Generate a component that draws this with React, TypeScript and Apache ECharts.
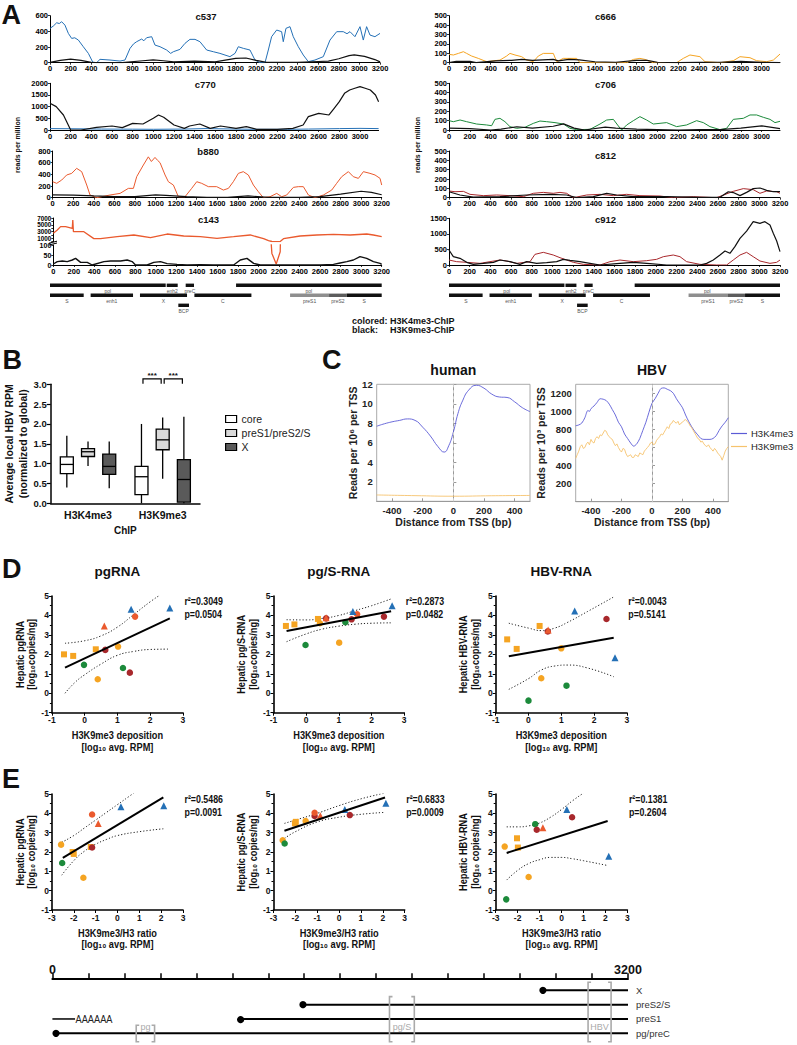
import React, { useEffect, useRef } from 'react';
import * as echarts from 'echarts';

const FONT = "'Liberation Sans', Arial, Helvetica, sans-serif";

const BLUE = '#2470b6';
const REDOR = '#ea5a2e';
const ORANGE = '#f5a422';
const GREEN = '#1c8a3b';
const DARKRED = '#a8282c';
const BLACK = '#111111';

// ---------------- Panel A data (bp, reads per million) ----------------
const c537Blue = [[0,438],[32,468],[65,510],[90,500],[113,523],[145,480],[178,374],[210,310],[240,318],[275,289],[323,204],[372,119],[414,8],[452,0],[485,43],[582,34],[679,21],[727,34],[776,183],[810,240],[840,268],[889,302],[910,280],[937,319],[986,332],[1018,225],[1067,204],[1131,162],[1170,119],[1196,140],[1260,170],[1309,247],[1357,298],[1406,298],[1454,268],[1519,162],[1584,140],[1648,119],[1745,77],[1794,119],[1826,204],[1875,183],[1939,162],[1988,34],[2036,0],[2085,0],[2117,162],[2149,332],[2198,417],[2246,396],[2262,268],[2288,438],[2327,460],[2359,332],[2408,204],[2456,98],[2505,13],[2569,34],[2650,77],[2715,289],[2780,396],[2844,396],[2880,370],[2909,396],[2957,332],[3006,460],[3038,289],[3070,460],[3103,353],[3151,332],[3200,374]];
const c537Black = [[0,5],[100,30],[200,45],[300,30],[400,5],[500,0],[700,0],[900,25],[1000,35],[1100,25],[1200,10],[1400,20],[1600,10],[1800,55],[1900,60],[2000,30],[2100,5],[2400,5],[2600,15],[2700,20],[2800,50],[2900,90],[2950,100],[3050,80],[3150,40],[3200,10]];
const c770Black = [[0,1143],[60,1000],[130,643],[200,0],[300,0],[450,114],[600,171],[700,100],[800,286],[900,257],[1000,500],[1050,643],[1100,543],[1200,214],[1300,71],[1350,171],[1450,257],[1550,71],[1650,171],[1800,71],[1900,143],[2000,29],[2200,29],[2350,71],[2450,214],[2500,571],[2600,714],[2700,643],[2750,929],[2800,1214],[2850,1571],[2900,1714],[2950,1786],[3000,1857],[3050,1786],[3100,1714],[3150,1500],[3180,1214]];
const c770Blue = [[0,60],[300,50],[500,40],[800,35],[1000,30],[1300,40],[1500,60],[1800,40],[2000,30],[2300,30],[2500,40],[2800,60],[3000,70],[3180,60]];
const b880Red = [[0,274],[39,246],[88,303],[136,389],[185,417],[233,503],[282,446],[331,217],[363,46],[428,0],[558,46],[655,74],[736,160],[785,160],[817,360],[882,560],[930,700],[960,620],[995,690],[1020,640],[1044,600],[1093,389],[1125,274],[1174,217],[1222,17],[1287,17],[1352,160],[1401,274],[1449,246],[1514,189],[1595,189],[1660,131],[1709,160],[1757,274],[1806,417],[1854,446],[1903,389],[1952,217],[2000,103],[2049,0],[2114,17],[2179,74],[2227,17],[2276,46],[2341,177],[2389,189],[2438,189],[2487,46],[2551,0],[2633,46],[2714,131],[2762,246],[2811,360],[2876,446],[2924,360],[2973,331],[3022,446],[3086,417],[3135,389],[3184,331],[3200,217]];
const b880Black = [[0,50],[200,45],[400,30],[600,20],[800,20],[1000,50],[1100,40],[1300,20],[1500,5],[1700,5],[1900,30],[2100,5],[2400,5],[2600,20],[2800,60],[3000,110],[3100,90],[3200,50]];
const c143Red = [[0,2480],[39,3460],[71,4440],[120,4440],[185,3960],[190,6400],[196,2950],[298,2950],[395,900],[460,900],[622,1470],[785,1980],[947,1180],[1109,2270],[1271,1680],[1433,1470],[1595,1000],[1757,1470],[1919,1980],[2049,900],[2097,300],[2130,58],[2172,5],[2211,66],[2243,900],[2405,1680],[2568,1980],[2730,2170],[2892,1980],[3054,2270],[3119,1980],[3200,1470]];
const c143Black = [[0,5],[39,17],[88,20],[136,17],[185,25],[217,33],[266,13],[331,13],[379,0],[493,17],[558,20],[655,20],[720,25],[768,17],[801,0],[914,0],[979,13],[1044,17],[1109,7],[1206,3],[1303,0],[1433,2],[1562,0],[1757,0],[1822,25],[1887,33],[1952,8],[2017,0],[2600,0],[2730,3],[2795,10],[2860,17],[2924,25],[2989,42],[3054,33],[3119,17],[3184,8],[3200,3]];
const c666Orange = [[0,89],[42,82],[90,99],[138,117],[169,99],[217,71],[281,46],[361,11],[489,28],[553,71],[585,99],[633,82],[697,64],[745,28],[809,11],[857,71],[905,99],[1001,99],[1033,11],[1097,46],[1225,46],[1257,0],[1705,0],[1769,35],[1832,46],[1880,35],[1960,0],[2184,0],[2248,46],[2312,82],[2408,64],[2456,11],[2600,0],[2728,21],[2792,64],[2888,53],[2952,21],[3048,11],[3112,28],[3176,92]];
const c666Black = [[0,0],[70,15],[200,15],[260,0],[450,20],[600,25],[700,35],[800,25],[900,30],[1000,35],[1050,20],[1150,35],[1250,30],[1400,10],[1600,5],[1800,25],[1900,25],[2000,5],[2200,0],[2400,5],[2600,5],[2800,15],[3000,5],[3176,0]];
const c706Green = [[0,100],[42,89],[106,107],[169,89],[265,64],[361,54],[409,46],[441,114],[489,125],[537,89],[585,36],[649,18],[729,29],[809,71],[873,96],[937,89],[1017,79],[1097,64],[1161,18],[1225,4],[1353,7],[1449,64],[1513,107],[1577,114],[1625,43],[1657,0],[1705,54],[1769,100],[1832,143],[1896,107],[1960,64],[2088,79],[2184,36],[2280,54],[2376,100],[2440,79],[2504,36],[2600,4],[2664,18],[2728,114],[2824,125],[2888,161],[2952,161],[3016,136],[3080,114],[3128,79],[3176,93]];
const c706Black = [[0,20],[200,15],[400,0],[500,10],[650,35],[800,20],[1000,40],[1100,65],[1200,20],[1300,0],[1500,30],[1600,20],[1800,10],[2000,5],[2200,0],[2400,5],[2600,5],[2800,20],[3000,45],[3176,15]];
const c812Red = [[0,72],[58,64],[139,68],[203,36],[332,22],[461,29],[590,22],[718,11],[815,47],[912,57],[1008,47],[1073,57],[1137,47],[1202,0],[1331,29],[1460,36],[1588,22],[1717,36],[1846,22],[2040,18],[2168,0],[2362,11],[2587,0],[2748,68],[2845,97],[2941,86],[3006,47],[3071,72],[3168,64],[3200,47]];
const c812Black = [[0,64],[106,29],[235,7],[493,11],[751,29],[976,36],[1137,29],[1234,0],[1395,11],[1524,47],[1621,29],[1782,11],[2104,11],[2426,4],[2620,4],[2700,64],[2748,55],[2813,22],[2877,57],[2941,97],[3006,104],[3071,79],[3135,64],[3200,64]];
const c912Black = [[0,481],[42,267],[106,214],[171,86],[235,21],[332,53],[429,86],[493,160],[590,107],[686,21],[751,107],[847,53],[944,75],[1041,107],[1105,182],[1170,150],[1266,107],[1363,53],[1460,0],[1621,43],[1782,86],[1943,43],[2104,0],[2426,0],[2491,53],[2555,160],[2620,321],[2668,449],[2716,375],[2764,589],[2813,856],[2877,1091],[2941,1391],[3006,1338],[3054,1391],[3103,1284],[3135,1017],[3168,770],[3200,428]];
const c912Red = [[0,160],[74,107],[171,86],[300,53],[396,107],[493,160],[557,128],[654,53],[783,107],[831,342],[912,407],[1008,321],[1073,235],[1137,160],[1202,86],[1298,21],[1460,0],[1556,107],[1653,160],[1782,107],[1911,139],[2007,182],[2072,267],[2168,321],[2233,267],[2297,107],[2426,21],[2587,0],[2684,0],[2748,160],[2813,321],[2877,407],[2941,267],[3006,128],[3103,53],[3168,86],[3200,160]];

// HBV genome map (bp start, bp end, row, label)
const geneFeatures: [number, number, number, string][] = [
  [0, 1116, 0, 'pol'], [1126, 1232, 0, 'enh2'], [1309, 1389, 0, 'preC'], [1795, 3200, 0, 'pol'],
  [0, 325, 1, 'S'], [392, 801, 1, 'enh1'], [868, 1322, 1, 'X'], [1393, 1943, 1, 'C'],
  [2316, 2692, 1, 'preS1'], [2692, 2862, 1, 'preS2'], [2862, 3200, 1, 'S'],
  [1238, 1341, 2, 'BCP'],
];

// ---------------- Panel B data ----------------
const bCategories = ['H3K4me3', 'H3K9me3'];
// [category, min, q1, median, q3, max]
const boxCore = [[0, 0.4, 0.75, 0.98, 1.17, 1.7], [1, 0.0, 0.22, 0.67, 0.93, 2.0]];
const boxPreS = [[0, 0.94, 1.18, 1.3, 1.38, 1.56], [1, 0.62, 1.35, 1.6, 1.87, 2.16]];
const boxX = [[0, 0.38, 0.73, 0.93, 1.24, 1.56], [1, 0.0, 0.03, 0.6, 1.1, 2.18]];
const bSignif = [[1, 0, 1, 3.0], [1, 1, 2, 3.0]];

// ---------------- Panel C data ----------------
const humanK4 = [[-500,7.7],[-450,7.95],[-400,8.15],[-350,8.3],[-300,8.45],[-250,8.3],[-200,7.6],[-150,6.7],[-100,5.6],[-60,5.05],[-30,5.7],[0,7.1],[30,9.0],[60,10.3],[100,11.4],[150,11.9],[200,11.6],[250,11.0],[300,10.7],[350,10.65],[400,10.2],[450,9.6],[500,9.2]];
const humanK9 = [[-500,0.65],[-250,0.58],[0,0.52],[250,0.57],[500,0.6]];
const hbvK4 = [[-500,841],[-480,850],[-460,871],[-440,930],[-420,1010],[-410,1000],[-400,1030],[-380,1060],[-360,1100],[-340,1140],[-320,1135],[-300,1120],[-280,1080],[-260,1020],[-240,960],[-220,880],[-200,830],[-180,750],[-160,700],[-140,650],[-120,615],[-100,640],[-80,700],[-60,790],[-40,880],[-20,990],[0,1090],[20,1140],[40,1200],[60,1255],[80,1260],[100,1245],[120,1230],[140,1200],[160,1140],[180,1090],[200,1040],[220,960],[240,890],[260,830],[280,780],[300,740],[320,700],[340,690],[360,690],[380,690],[400,700],[420,730],[440,790],[460,840],[480,880],[500,930]];
const hbvK9 = [[-500,480],[-490,520],[-480,560],[-470,610],[-460,630],[-450,590],[-440,600],[-430,640],[-420,660],[-410,630],[-400,690],[-390,660],[-380,650],[-370,700],[-360,720],[-350,700],[-340,740],[-330,730],[-320,760],[-310,790],[-300,780],[-290,740],[-280,720],[-270,700],[-260,690],[-250,650],[-240,620],[-230,640],[-220,600],[-210,570],[-200,550],[-190,590],[-180,580],[-170,530],[-160,500],[-150,510],[-140,520],[-130,490],[-120,490],[-110,520],[-100,510],[-90,500],[-80,540],[-70,530],[-60,520],[-50,560],[-40,580],[-30,600],[-20,620],[-10,650],[0,660],[10,630],[20,640],[30,680],[40,700],[50,720],[60,750],[70,740],[80,770],[90,800],[100,830],[110,810],[120,860],[130,870],[140,900],[150,880],[160,870],[170,890],[180,850],[190,870],[200,880],[210,900],[220,910],[230,890],[240,870],[250,840],[260,820],[270,790],[280,760],[290,730],[300,700],[310,690],[320,660],[330,670],[340,640],[350,620],[360,610],[370,630],[380,600],[390,580],[400,560],[410,590],[420,570],[430,540],[440,520],[450,500],[460,460],[470,510],[480,560],[490,590],[500,610]];

// ---------------- Panels D/E data: [x, y, markerGroup] ----------------
// groups: 0 orange square, 1 orange circle, 2 green circle, 3 dark red circle, 4 red circle, 5 red triangle, 6 blue triangle
const dPgPts = [[-0.63,2.0,0],[-0.35,1.92,0],[-0.02,1.46,2],[0.34,2.26,0],[0.4,0.72,1],[0.6,3.46,5],[0.63,2.23,3],[1.02,2.4,1],[1.17,1.3,2],[1.38,1.06,3],[1.42,4.32,6],[1.54,3.94,4],[2.6,4.38,6]];
const dPgFit = [[-0.6,1.32],[2.6,3.85]];
const dPgUpper = [[-0.6,2.57],[0,2.7],[0.5,2.95],[1,3.4],[1.5,4.05],[2,4.7],[2.3,5.05]];
const dPgLower = [[-0.6,0.0],[-0.3,0.55],[0,0.95],[0.5,1.5],[1,1.95],[1.5,2.15],[2,2.25],[2.6,2.27]];
const dPgSPts = [[-0.62,3.46,0],[-0.36,3.54,0],[-0.02,2.48,2],[0.36,3.82,0],[0.42,3.6,1],[0.61,3.88,5],[0.61,3.85,3],[1.01,2.6,1],[1.2,3.65,2],[1.39,3.8,3],[1.43,4.2,6],[1.56,4.06,4],[2.38,3.94,3],[2.63,4.5,6]];
const dPgSFit = [[-0.6,3.2],[2.6,4.22]];
const dPgSUpper = [[-0.6,3.78],[0,3.77],[0.5,3.85],[1,4.0],[1.5,4.25],[2,4.5],[2.6,4.85]];
const dPgSLower = [[-0.6,2.65],[0,3.05],[0.5,3.3],[1,3.45],[1.5,3.55],[2,3.6],[2.6,3.62]];
const dHbvPts = [[-0.65,2.77,0],[-0.36,2.28,0],[0,-0.38,2],[0.34,3.46,0],[0.39,0.77,1],[0.6,3.25,5],[0.59,3.18,3],[1.0,2.31,1],[1.16,0.39,2],[1.41,4.23,6],[2.38,3.82,3],[2.64,1.83,6]];
const dHbvFit = [[-0.6,1.9],[2.6,2.85]];
const dHbvUpper = [[-0.6,3.6],[0,3.35],[0.4,3.22],[0.8,3.35],[1.2,3.65],[1.8,4.2],[2.6,4.95]];
const dHbvLower = [[-0.6,0.2],[0,0.75],[0.4,1.2],[0.8,1.4],[1.2,1.45],[1.8,1.3],[2.6,0.85]];
const ePgPts = [[-2.58,2.38,1],[-2.53,1.43,2],[-2.05,2.0,0],[-2.0,1.9,0],[-1.56,0.67,1],[-1.22,2.26,0],[-1.16,3.94,4],[-0.88,3.48,5],[-1.16,2.23,3],[0.16,4.34,6],[2.12,4.39,6]];
const ePgFit = [[-2.5,1.7],[2.1,4.82]];
const ePgUpper = [[-2.55,2.5],[-2,2.85],[-1.5,3.25],[-1,3.65],[-0.5,4.05],[0,4.45],[0.5,4.85],[0.75,5.05]];
const ePgLower = [[-2.55,0.8],[-2,1.55],[-1.5,2.05],[-1,2.4],[-0.5,2.65],[0,2.85],[1,3.05],[2.1,3.2]];
const ePgSPts = [[-2.58,2.61,1],[-2.49,2.44,2],[-2.02,3.48,0],[-1.98,3.56,0],[-1.53,3.6,1],[-0.86,3.88,5],[-1.12,4.03,4],[-1.12,3.86,3],[0.49,3.91,3],[0.26,4.2,6],[2.14,4.52,6]];
const ePgSFit = [[-2.5,3.1],[2.1,4.82]];
const ePgSUpper = [[-2.5,3.48],[-2,3.65],[-1,4.0],[0,4.4],[1,4.75],[2.1,5.05]];
const ePgSLower = [[-2.5,2.7],[-2,3.05],[-1,3.55],[0,3.8],[1,3.95],[2.1,4.05]];
const eHbvPts = [[-2.59,2.28,1],[-2.52,-0.45,2],[-2.03,2.71,0],[-1.99,2.23,0],[-1.5,0.71,1],[-1.2,3.44,2],[-1.13,3.15,3],[-0.85,3.25,5],[0.24,4.2,6],[0.48,3.8,3],[2.15,1.78,6]];
const eHbvFit = [[-2.5,1.95],[2.1,3.6]];
const eHbvUpper = [[-2.5,3.3],[-2,3.3],[-1.5,3.35],[-1,3.5],[-0.5,3.8],[0,4.2],[0.5,4.65],[1.0,5.05]];
const eHbvLower = [[-2.5,0.55],[-2,1.05],[-1.5,1.4],[-1,1.6],[-0.5,1.72],[0,1.72],[0.5,1.65],[1,1.55],[2.1,1.3]];

// ---------------- Transcript map ----------------
const genomeLength = 3200;
const transcriptRows = ['pg/preC', 'preS1', 'preS2/S', 'X'];
const transcriptStarts = [[20, 0], [1046, 1], [1393, 2], [2727, 3]];
const polyA = [[0, 126, 1]];
const primerBrackets: [number, number, number, string][] = [[466, 568, 0, 'pg'], [1874, 2012, 2, 'pg/S'], [2978, 3106, 3, 'HBV']];

const markerGroups = [
  { symbol: 'rect', color: ORANGE, size: 6 },
  { symbol: 'circle', color: ORANGE, size: 6.5 },
  { symbol: 'circle', color: GREEN, size: 6.5 },
  { symbol: 'circle', color: DARKRED, size: 6.5 },
  { symbol: 'circle', color: REDOR, size: 6.5 },
  { symbol: 'triangle', color: REDOR, size: 7 },
  { symbol: 'triangle', color: BLUE, size: 7 },
];

function txt(x: number, y: number, text: string, o: any = {}) {
  const align = o.align || 'left';
  const va = o.va || 'middle';
  return {
    type: 'text', x, y, rotation: o.rot || 0, scaleX: o.sx || 1, silent: true, z: 50,
    style: {
      text, fill: o.color || '#111', fontSize: o.size || 10, fontWeight: o.weight || 'bold',
      fontFamily: FONT, align, verticalAlign: va, textAlign: align, textVerticalAlign: va,
    },
  };
}

const plain = (v: number) => String(v);

function buildOption() {
  const grid: any[] = [];
  const xAxis: any[] = [];
  const yAxis: any[] = [];
  const series: any[] = [];
  const graphic: any[] = [];
  const add = (g: any, xa: any, ya: any) => {
    const i = grid.length;
    grid.push({ ...g, containLabel: false, outerBoundsMode: 'none' });
    xAxis.push({ ...xa, gridIndex: i });
    yAxis.push({ ...ya, gridIndex: i });
    return i;
  };

  // ---------- Panel A ----------
  const aLabel = { fontSize: 7.5, fontWeight: 'bold', color: '#000', margin: 2, fontFamily: FONT };
  const aX = (max: number) => ({
    type: 'value', min: 0, max, interval: 200,
    axisLine: { show: true, lineStyle: { color: '#000', width: 1 } },
    axisTick: { show: true, length: 2, lineStyle: { color: '#000', width: 0.8 } },
    axisLabel: { ...aLabel, formatter: plain, showMaxLabel: max === 3200 },
    splitLine: { show: false },
  });
  const aY = (max: number, interval: number, fmt?: any, size?: number) => ({
    type: 'value', min: 0, max, interval,
    axisLine: { show: true, lineStyle: { color: '#000', width: 1 } },
    axisTick: { show: true, length: 2, lineStyle: { color: '#000', width: 0.8 } },
    axisLabel: { ...aLabel, fontSize: size || 7.5, formatter: fmt || plain },
    splitLine: { show: false },
  });
  const aLine = (gi: number, data: number[][], color: string, w: number) => ({
    type: 'line', xAxisIndex: gi, yAxisIndex: gi, data, showSymbol: false, symbol: 'none',
    lineStyle: { color, width: w }, itemStyle: { color }, silent: true, clip: true,
  });

  const aPlots = [
    { t: 'c537', l: 50, top: 15.7, w: 330, h: 47, xMax: 3200, yMax: 600, yInt: 200, col: c537Blue, blk: c537Black, c: BLUE, ty: 16.5 },
    { t: 'c770', l: 50, top: 83.3, w: 328.6, h: 46.7, xMax: 3180, yMax: 2000, yInt: 500, col: c770Blue, blk: c770Black, c: BLUE, ty: 84 },
    { t: 'b880', l: 52.7, top: 151, w: 329, h: 46.7, xMax: 3200, yMax: 800, yInt: 200, col: b880Red, blk: b880Black, c: REDOR, ty: 151.5 },
    { t: 'c666', l: 449, top: 15.7, w: 331, h: 47, xMax: 3176, yMax: 500, yInt: 100, col: c666Orange, blk: c666Black, c: ORANGE, ty: 16.5 },
    { t: 'c706', l: 449, top: 83.3, w: 331, h: 46.7, xMax: 3176, yMax: 500, yInt: 100, col: c706Green, blk: c706Black, c: GREEN, ty: 84 },
    { t: 'c812', l: 449, top: 151, w: 331, h: 46.7, xMax: 3200, yMax: 500, yInt: 100, col: c812Red, blk: c812Black, c: DARKRED, ty: 155 },
    { t: 'c912', l: 449, top: 218.3, w: 331, h: 46.7, xMax: 3200, yMax: 1500, yInt: 500, col: c912Red, blk: c912Black, c: DARKRED, ty: 219 },
  ];
  aPlots.forEach((p) => {
    const gi = add({ left: p.l, top: p.top, width: p.w, height: p.h }, aX(p.xMax), aY(p.yMax, p.yInt));
    series.push(aLine(gi, p.col, p.c, 1));
    series.push(aLine(gi, p.blk, BLACK, 1.2));
    graphic.push(txt(p.l + p.w / 2 - 9, p.ty, p.t, { size: 9.5, align: 'center' }));
  });
  // c143 with broken axis
  const c143Top = add({ left: 53.3, top: 218, width: 328.4, height: 23.7 },
    { ...aX(3200), axisLine: { show: false }, axisTick: { show: false }, axisLabel: { show: false } },
    aY(7000, 1000, (v: number) => ((v / 1000) % 2 === 1 ? String(v) : ''), 6.3));
  series.push(aLine(c143Top, c143Red, REDOR, 1.3));
  const c143Bot = add({ left: 53.3, top: 245, width: 328.4, height: 20 }, aX(3200), aY(100, 50, plain, 7));
  series.push(aLine(c143Bot, c143Red, REDOR, 1.3));
  series.push(aLine(c143Bot, c143Black, BLACK, 1.4));
  graphic.push(txt(53.3 + 164.2 - 9, 219.5, 'c143', { size: 9.5, align: 'center' }));
  graphic.push({ type: 'line', shape: { x1: 49, y1: 243.2, x2: 57, y2: 241.2 }, style: { stroke: '#000', lineWidth: 1 }, silent: true });
  graphic.push({ type: 'line', shape: { x1: 49, y1: 245, x2: 57, y2: 243 }, style: { stroke: '#000', lineWidth: 1 }, silent: true });

  // genome maps
  const mapColor = (name: string) => (name === 'preS1' ? '#8e8e8e' : name === 'preS2' ? '#5c5c5c' : '#111');
  [[50, 331.7], [449, 331]].forEach(([l, w]) => {
    const gi = add({ left: l, top: 280.3, width: w, height: 30 },
      { type: 'value', min: 0, max: genomeLength, show: false },
      { type: 'category', data: ['r0', 'r1', 'r2'], inverse: true, show: false });
    series.push({
      type: 'custom', xAxisIndex: gi, yAxisIndex: gi, silent: true, data: geneFeatures.map((f) => [f[0], f[1], f[2]]),
      renderItem: (params: any, api: any) => {
        const f = geneFeatures[params.dataIndex];
        const a = api.coord([api.value(0), api.value(2)]);
        const b = api.coord([api.value(1), api.value(2)]);
        return {
          type: 'group', children: [
            { type: 'rect', shape: { x: a[0], y: a[1] - 1.7, width: b[0] - a[0], height: 3.4 }, style: { fill: mapColor(f[3]) } },
            { type: 'text', x: (a[0] + b[0]) / 2, y: a[1] + 5.2, style: { text: f[3], fontSize: 5, fill: '#555', fontFamily: FONT, align: 'center', verticalAlign: 'middle', textAlign: 'center', textVerticalAlign: 'middle' } },
          ],
        };
      },
    });
  });
  graphic.push(txt(17, 145, 'reads per million', { size: 7, rot: Math.PI / 2, align: 'center' }));
  graphic.push(txt(417.5, 145, 'reads per million', { size: 7, rot: Math.PI / 2, align: 'center' }));
  graphic.push(txt(352, 320.5, 'colored:', { size: 9 }));
  graphic.push(txt(390, 320.5, 'H3K4me3-ChIP', { size: 9 }));
  graphic.push(txt(352, 330, 'black:', { size: 9 }));
  graphic.push(txt(390, 330, 'H3K9me3-ChIP', { size: 9 }));

  // ---------- Panel B ----------
  const gB = add({ left: 50.7, top: 384.3, width: 149.3, height: 119 },
    {
      type: 'category', data: bCategories,
      axisLine: { show: true, lineStyle: { color: '#000', width: 1.5 } }, axisTick: { show: false },
      axisLabel: { fontSize: 10.5, fontWeight: 'bold', color: '#111', margin: 6 },
      name: 'ChIP', nameLocation: 'middle', nameGap: 22, nameTextStyle: { fontSize: 10, fontWeight: 'bold', color: '#111' },
    },
    {
      type: 'value', min: 0, max: 3, interval: 0.5,
      axisLine: { show: true, lineStyle: { color: '#000', width: 1.5 } },
      axisTick: { show: true, length: 4, lineStyle: { color: '#000', width: 1.2 } },
      axisLabel: { fontSize: 9.5, fontWeight: 'bold', color: '#111', margin: 4, formatter: (v: number) => v.toFixed(1) },
      splitLine: { show: false },
      name: 'Average local HBV RPM\n(normalized to global)', nameLocation: 'middle', nameGap: 18,
      nameTextStyle: { fontSize: 10.5, fontWeight: 'bold', color: '#111', lineHeight: 13.5 },
    });
  const slotFrac = 0.284;
  const boxSeries = (name: string, data: number[][], fill: string, slot: number) => ({
    type: 'custom', name, xAxisIndex: gB, yAxisIndex: gB, data, silent: true,
    itemStyle: { color: fill, borderColor: '#000', borderWidth: 1.2 },
    encode: { x: 0, y: [1, 2, 3, 4, 5] },
    renderItem: (params: any, api: any) => {
      const c = api.value(0);
      const pMin = api.coord([c, api.value(1)]);
      const pQ1 = api.coord([c, api.value(2)]);
      const pMed = api.coord([c, api.value(3)]);
      const pQ3 = api.coord([c, api.value(4)]);
      const pMax = api.coord([c, api.value(5)]);
      const bw = api.size([1, 0])[0];
      const x = pMin[0] + slot * bw * slotFrac;
      const hw = 6.5;
      const st = { stroke: '#000', lineWidth: 1.3 };
      return {
        type: 'group', children: [
          { type: 'line', shape: { x1: x, y1: pMin[1], x2: x, y2: pQ1[1] }, style: st },
          { type: 'line', shape: { x1: x, y1: pQ3[1], x2: x, y2: pMax[1] }, style: st },
          { type: 'rect', shape: { x: x - hw, y: pQ3[1], width: 2 * hw, height: pQ1[1] - pQ3[1] }, style: { fill, stroke: '#000', lineWidth: 1.3 } },
          { type: 'line', shape: { x1: x - hw, y1: pMed[1], x2: x + hw, y2: pMed[1] }, style: st },
        ],
      };
    },
  });
  series.push(boxSeries('core', boxCore, '#ffffff', -1));
  series.push(boxSeries('preS1/preS2/S', boxPreS, '#d9d9d9', 0));
  series.push(boxSeries('X', boxX, '#5a5a5a', 1));
  series.push({
    type: 'custom', xAxisIndex: gB, yAxisIndex: gB, data: bSignif, silent: true,
    renderItem: (params: any, api: any) => {
      const c = api.value(0);
      const base = api.coord([c, api.value(3)]);
      const bw = api.size([1, 0])[0];
      const x1 = base[0] + (api.value(1) - 1) * bw * slotFrac + 1.5;
      const x2 = base[0] + (api.value(2) - 1) * bw * slotFrac - 1.5;
      const yb = base[1] - 0.5;
      const yt = yb - 5;
      return {
        type: 'group', children: [
          { type: 'polyline', shape: { points: [[x1, yb], [x1, yt], [x2, yt], [x2, yb]] }, style: { stroke: '#000', lineWidth: 1.2, fill: null } },
          { type: 'text', x: (x1 + x2) / 2, y: yt - 3.5, style: { text: '***', fontSize: 8, fontWeight: 'bold', fill: '#111', fontFamily: FONT, align: 'center', verticalAlign: 'middle', textAlign: 'center', textVerticalAlign: 'middle' } },
        ],
      };
    },
  });

  // ---------- Panel C ----------
  const cX = {
    type: 'value', min: -500, max: 500, splitNumber: 5,
    axisLine: { show: true, lineStyle: { color: '#999', width: 1 } },
    axisTick: { show: true, inside: true, length: 3, lineStyle: { color: '#999' } },
    axisLabel: { fontSize: 9.5, fontWeight: 'bold', color: '#222', margin: 4, showMinLabel: false, showMaxLabel: false, formatter: plain },
    splitLine: { show: false },
    name: 'Distance from TSS (bp)', nameLocation: 'middle', nameGap: 14,
    nameTextStyle: { fontSize: 10.5, fontWeight: 'bold', color: '#222' },
  };
  const cY = (max: number, name: string, gap: number, extra: any, showMax: boolean) => ({
    type: 'value', min: 0, max, ...extra,
    axisLine: { show: true, lineStyle: { color: '#999', width: 1 } },
    axisTick: { show: true, inside: true, length: 3, lineStyle: { color: '#999' } },
    axisLabel: { fontSize: 9.5, fontWeight: 'bold', color: '#222', margin: 4, showMinLabel: false, showMaxLabel: showMax, formatter: plain },
    splitLine: { show: false },
    name, nameLocation: 'middle', nameGap: gap,
    nameTextStyle: { fontSize: 10.5, fontWeight: 'bold', color: '#222' },
  });
  const gHuman = add({ left: 376.7, top: 384.3, width: 153.3, height: 117, show: true, borderColor: '#aaa', borderWidth: 1 },
    cX, cY(12, 'Reads per 10⁶ per TSS', 18, { interval: 2 }, true));
  const gHbv = add({ left: 575.7, top: 384.3, width: 152.6, height: 117.4, show: true, borderColor: '#aaa', borderWidth: 1 },
    cX, cY(1300, 'Reads per 10³ per TSS', 24, { splitNumber: 6 }, false));
  const zeroLine = { silent: true, symbol: 'none', label: { show: false }, lineStyle: { type: [3, 3], color: '#d0d0d0', width: 1 }, data: [{ xAxis: 0 }] };
  const K4C = '#5b5bd6';
  const K9C = '#f6c36d';
  series.push({ type: 'line', name: 'H3K4me3', xAxisIndex: gHuman, yAxisIndex: gHuman, data: humanK4, smooth: true, showSymbol: false, symbol: 'none', lineStyle: { color: K4C, width: 0.9 }, itemStyle: { color: K4C }, markLine: zeroLine, silent: true });
  series.push({ type: 'line', name: 'H3K9me3', xAxisIndex: gHuman, yAxisIndex: gHuman, data: humanK9, smooth: true, showSymbol: false, symbol: 'none', lineStyle: { color: K9C, width: 0.9 }, itemStyle: { color: K9C }, silent: true });
  series.push({ type: 'line', name: 'H3K4me3', xAxisIndex: gHbv, yAxisIndex: gHbv, data: hbvK4, smooth: 0.3, showSymbol: false, symbol: 'none', lineStyle: { color: K4C, width: 0.9 }, itemStyle: { color: K4C }, markLine: zeroLine, silent: true });
  series.push({ type: 'line', name: 'H3K9me3', xAxisIndex: gHbv, yAxisIndex: gHbv, data: hbvK9, showSymbol: false, symbol: 'none', lineStyle: { color: K9C, width: 0.9 }, itemStyle: { color: K9C }, silent: true });
  graphic.push(txt(453.3, 369.5, 'human', { size: 14, align: 'center' }));
  graphic.push(txt(651.7, 369.5, 'HBV', { size: 14, align: 'center' }));

  // ---------- Panels D & E ----------
  const dePlots = [
    { l: 51.9, top: 596, h: 116.7, w: 131, xMin: -1, xMax: 3, pts: dPgPts, fit: dPgFit, up: dPgUpper, lo: dPgLower, yName: ['Hepatic pgRNA', '[log₁₀copies/ng]'], xName: ['H3K9me3 deposition', '[log₁₀ avg. RPM]'], r2: 'r²=0.3049', p: 'p=0.0504', title: 'pgRNA' },
    { l: 273.5, top: 596, h: 116.7, w: 130.7, xMin: -1, xMax: 3, pts: dPgSPts, fit: dPgSFit, up: dPgSUpper, lo: dPgSLower, yName: ['Hepatic pg/S-RNA', '[log₁₀copies/ng]'], xName: ['H3K9me3 deposition', '[log₁₀ avg. RPM]'], r2: 'r²=0.2873', p: 'p=0.0482', title: 'pg/S-RNA' },
    { l: 495.7, top: 596, h: 116.7, w: 131.1, xMin: -1, xMax: 3, pts: dHbvPts, fit: dHbvFit, up: dHbvUpper, lo: dHbvLower, yName: ['Hepatic HBV-RNA', '[log₁₀copies/ng]'], xName: ['H3K9me3 deposition', '[log₁₀ avg. RPM]'], r2: 'r²=0.0043', p: 'p=0.5141', title: 'HBV-RNA' },
    { l: 51.9, top: 794, h: 116, w: 131.1, xMin: -3, xMax: 3, pts: ePgPts, fit: ePgFit, up: ePgUpper, lo: ePgLower, yName: ['Hepatic pgRNA', '[log₁₀ copies/ng]'], xName: ['H3K9me3/H3 ratio', '[log₁₀ avg. RPM]'], r2: 'r²=0.5486', p: 'p=0.0091', title: '' },
    { l: 273.5, top: 794, h: 116, w: 131.2, xMin: -3, xMax: 3, pts: ePgSPts, fit: ePgSFit, up: ePgSUpper, lo: ePgSLower, yName: ['Hepatic pg/S-RNA', '[log₁₀ copies/ng]'], xName: ['H3K9me3/H3 ratio', '[log₁₀ avg. RPM]'], r2: 'r²=0.6833', p: 'p=0.0009', title: '' },
    { l: 495.7, top: 794, h: 116, w: 131.7, xMin: -3, xMax: 3, pts: eHbvPts, fit: eHbvFit, up: eHbvUpper, lo: eHbvLower, yName: ['Hepatic HBV-RNA', '[log₁₀ copies/ng]'], xName: ['H3K9me3/H3 ratio', '[log₁₀ avg. RPM]'], r2: 'r²=0.1381', p: 'p=0.2604', title: '' },
  ];
  const deLabel = { fontSize: 8.5, fontWeight: 'bold', color: '#111', margin: 3, fontFamily: FONT };
  dePlots.forEach((p) => {
    const gi = add({ left: p.l, top: p.top, width: p.w, height: p.h },
      {
        type: 'value', min: p.xMin, max: p.xMax, interval: 1,
        axisLine: { show: true, onZero: false, lineStyle: { color: '#000', width: 1.6 } },
        axisTick: { show: true, length: 3, lineStyle: { color: '#000', width: 1 } },
        axisLabel: deLabel, splitLine: { show: false },
      },
      {
        type: 'value', min: -1, max: 5, interval: 1,
        axisLine: { show: true, onZero: false, lineStyle: { color: '#000', width: 1.6 } },
        axisTick: { show: true, length: 3, lineStyle: { color: '#000', width: 1 } },
        minorTick: { show: true, splitNumber: 2, length: 2, lineStyle: { color: '#000' } },
        axisLabel: deLabel, splitLine: { show: false },
      });
    series.push({ type: 'line', xAxisIndex: gi, yAxisIndex: gi, data: p.up, smooth: true, showSymbol: false, symbol: 'none', lineStyle: { color: '#222', width: 1, type: [1.2, 2] }, silent: true, clip: true });
    series.push({ type: 'line', xAxisIndex: gi, yAxisIndex: gi, data: p.lo, smooth: true, showSymbol: false, symbol: 'none', lineStyle: { color: '#222', width: 1, type: [1.2, 2] }, silent: true, clip: true });
    markerGroups.forEach((m, k) => {
      const d = p.pts.filter((q) => q[2] === k).map((q) => [q[0], q[1]]);
      if (!d.length) return;
      series.push({ type: 'scatter', xAxisIndex: gi, yAxisIndex: gi, data: d, symbol: m.symbol, symbolSize: m.size, itemStyle: { color: m.color, opacity: 1 }, silent: true, z: 3 });
    });
    series.push({ type: 'line', xAxisIndex: gi, yAxisIndex: gi, data: p.fit, showSymbol: false, symbol: 'none', lineStyle: { color: '#000', width: 2 }, silent: true, z: 4 });
    const rx = p.l + p.w + 1.5;
    graphic.push(txt(rx, p.top + 5.7, p.r2, { size: 10.5, sx: 0.84 }));
    graphic.push(txt(rx, p.top + 18, p.p, { size: 10.5, sx: 0.84 }));
    const cy = p.top + p.h / 2;
    graphic.push(txt(p.l - 32, cy, p.yName[0], { size: 11, sx: 0.84, rot: Math.PI / 2, align: 'center' }));
    graphic.push(txt(p.l - 20.5, cy, p.yName[1], { size: 11, sx: 0.84, rot: Math.PI / 2, align: 'center' }));
    const cx = p.l + p.w / 2;
    const by = p.top + p.h;
    graphic.push(txt(cx, by + 23, p.xName[0], { size: 11, sx: 0.84, align: 'center' }));
    graphic.push(txt(cx, by + 34.5, p.xName[1], { size: 11, sx: 0.84, align: 'center' }));
    if (p.title) graphic.push(txt(cx, 571.7, p.title, { size: 13.5, align: 'center' }));
  });

  // ---------- Transcript map ----------
  const gMap = add({ left: 52.4, top: 990.3, width: 575.6, height: 43 },
    {
      type: 'value', min: 0, max: genomeLength, interval: 200, position: 'top', offset: 12,
      axisLine: { show: true, lineStyle: { color: '#000', width: 2 } },
      axisTick: { show: true, length: 5, lineStyle: { color: '#000', width: 1.5 } },
      axisLabel: { fontSize: 12.5, fontWeight: 'bold', color: '#111', margin: 2, formatter: (v: number) => (v === 0 || v === genomeLength ? String(v) : '') },
      splitLine: { show: false },
    },
    {
      type: 'category', data: transcriptRows, boundaryGap: false, position: 'right',
      axisLine: { show: false }, axisTick: { show: false }, splitLine: { show: false },
      axisLabel: { fontSize: 9.5, color: '#333', margin: 8 },
    });
  series.push({
    type: 'custom', xAxisIndex: gMap, yAxisIndex: gMap, data: transcriptStarts, silent: true,
    renderItem: (params: any, api: any) => {
      const a = api.coord([api.value(0), api.value(1)]);
      const b = api.coord([genomeLength, api.value(1)]);
      return {
        type: 'group', children: [
          { type: 'line', shape: { x1: a[0], y1: a[1], x2: b[0], y2: b[1] }, style: { stroke: '#000', lineWidth: 2 } },
          { type: 'circle', shape: { cx: a[0], cy: a[1], r: 3.6 }, style: { fill: '#000' } },
        ],
      };
    },
  });
  series.push({
    type: 'custom', xAxisIndex: gMap, yAxisIndex: gMap, data: polyA, silent: true,
    renderItem: (params: any, api: any) => {
      const a = api.coord([api.value(0), api.value(2)]);
      const b = api.coord([api.value(1), api.value(2)]);
      return {
        type: 'group', children: [
          { type: 'line', shape: { x1: a[0], y1: a[1], x2: b[0], y2: b[1] }, style: { stroke: '#000', lineWidth: 1.5 } },
          { type: 'text', x: b[0] + 0.5, y: b[1], scaleX: 0.88, style: { text: 'AAAAAA', fontSize: 10.5, fill: '#222', fontFamily: FONT, align: 'left', verticalAlign: 'middle', textAlign: 'left', textVerticalAlign: 'middle' } },
        ],
      };
    },
  });
  series.push({
    type: 'custom', xAxisIndex: gMap, yAxisIndex: gMap, data: primerBrackets.map((b) => [b[0], b[1], b[2]]), silent: true,
    renderItem: (params: any, api: any) => {
      const lab = primerBrackets[params.dataIndex][3];
      const l = api.coord([api.value(0), api.value(2)]);
      const r = api.coord([api.value(1), api.value(2)]);
      const bottomRow = api.coord([api.value(0), 0])[1];
      const yt = l[1] - 8;
      const yb = bottomRow + 8.5;
      const st = { stroke: '#aaa', lineWidth: 1.6, fill: null };
      return {
        type: 'group', children: [
          { type: 'polyline', shape: { points: [[l[0] + 3, yt], [l[0], yt], [l[0], yb], [l[0] + 3, yb]] }, style: st },
          { type: 'polyline', shape: { points: [[r[0] - 3, yt], [r[0], yt], [r[0], yb], [r[0] - 3, yb]] }, style: st },
          { type: 'text', x: (l[0] + r[0]) / 2, y: bottomRow - 6, style: { text: lab, fontSize: 9, fill: '#aaa', fontFamily: FONT, align: 'center', verticalAlign: 'middle', textAlign: 'center', textVerticalAlign: 'middle' } },
        ],
      };
    },
  });

  // panel letters
  graphic.push(txt(1.5, 15, 'A', { size: 27 }));
  graphic.push(txt(2.5, 360, 'B', { size: 27 }));
  graphic.push(txt(322, 360, 'C', { size: 27 }));
  graphic.push(txt(2, 568.5, 'D', { size: 27 }));
  graphic.push(txt(2, 778.5, 'E', { size: 27 }));

  const legend = [
    {
      left: 225, top: 413.5, padding: 0, orient: 'vertical', itemWidth: 11, itemHeight: 7, itemGap: 3, icon: 'rect',
      selectedMode: false, textStyle: { fontSize: 10.5, color: '#222', fontFamily: FONT },
      data: [
        { name: 'core', itemStyle: { color: '#ffffff', borderColor: '#000', borderWidth: 1.2 } },
        { name: 'preS1/preS2/S', itemStyle: { color: '#d9d9d9', borderColor: '#000', borderWidth: 1.2 } },
        { name: 'X', itemStyle: { color: '#5a5a5a', borderColor: '#000', borderWidth: 1.2 } },
      ],
    },
    {
      left: 731, top: 428.5, padding: 0, orient: 'vertical', itemWidth: 16, itemHeight: 1.2, itemGap: 3, icon: 'rect',
      selectedMode: false, textStyle: { fontSize: 9.5, color: '#222', fontFamily: FONT, padding: [0, 0, 0, -1] },
      data: ['H3K4me3', 'H3K9me3'],
    },
  ];

  return { animation: false, backgroundColor: '#fff', textStyle: { fontFamily: FONT }, grid, xAxis, yAxis, series, graphic, legend };
}

export default function App() {
  const ref = useRef<HTMLDivElement>(null);
  useEffect(() => {
    if (!ref.current) return;
    const chart = echarts.init(ref.current, undefined, { renderer: 'svg' });
    chart.setOption(buildOption() as any);
    return () => chart.dispose();
  }, []);
  return <div ref={ref} style={{ position: 'absolute', left: 0, top: 0, width: 797, height: 1045, background: '#fff' }} />;
}
